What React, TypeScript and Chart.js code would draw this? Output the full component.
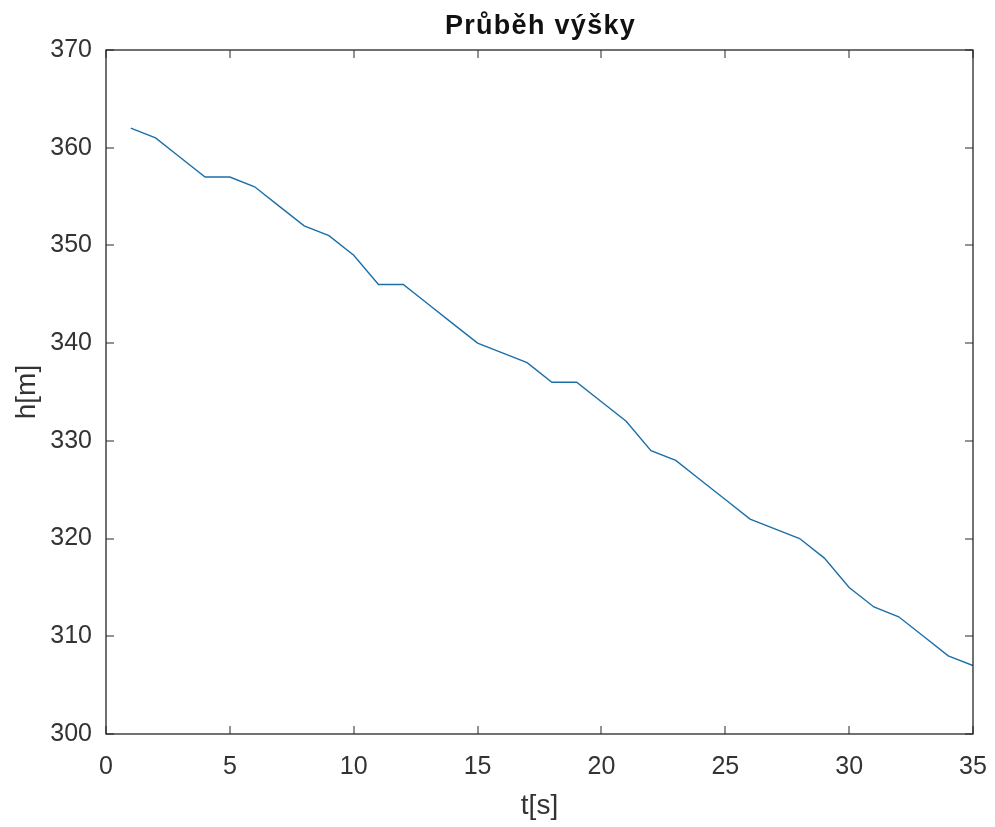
import React, { useEffect, useRef } from "react";
import { Chart, registerables } from "chart.js";

Chart.register(...registerables);

const titleText = "Průběh výšky";
const xLabel = "t[s]";
const yLabel = "h[m]";
const timeValues = [
  1, 2, 3, 4, 5, 6, 7, 8, 9, 10, 11, 12, 13, 14, 15, 16, 17, 18, 19, 20, 21, 22, 23, 24, 25, 26, 27, 28, 29, 30, 31, 32, 33, 34, 35,
];
const heightValues = [
  362, 361, 359, 357, 357, 356, 354, 352, 351, 349, 346, 346, 344, 342, 340, 339, 338, 336, 336, 334, 332, 329, 328, 326, 324, 322,
  321, 320, 318, 315, 313, 312, 310, 308, 307,
];
const xTicksRange = { min: 0, max: 35, step: 5 };
const yTicksRange = { min: 300, max: 370, step: 10 };

const FONT = "'Liberation Sans', Arial, Helvetica, sans-serif";
const AXIS_COLOR = "#262626";

const boxPlugin = {
  id: "matlabBox",
  afterDatasetsDraw(chart: any) {
    const { ctx, chartArea } = chart;
    const { left, right, top, bottom } = chartArea;
    const xs = chart.scales.x;
    const ys = chart.scales.y;
    const tl = 8;
    ctx.save();
    ctx.strokeStyle = AXIS_COLOR;
    ctx.lineWidth = 1;
    ctx.beginPath();
    xs.ticks.forEach((t: any) => {
      const px = Math.round(xs.getPixelForValue(t.value));
      ctx.moveTo(px, bottom);
      ctx.lineTo(px, bottom - tl);
      ctx.moveTo(px, top);
      ctx.lineTo(px, top + tl);
    });
    ys.ticks.forEach((t: any) => {
      const py = Math.round(ys.getPixelForValue(t.value));
      ctx.moveTo(left, py);
      ctx.lineTo(left + tl, py);
      ctx.moveTo(right, py);
      ctx.lineTo(right - tl, py);
    });
    ctx.stroke();
    ctx.lineWidth = 1.3;
    ctx.strokeRect(left, top, right - left, bottom - top);
    // title
    ctx.fillStyle = "#111111";
    ctx.font = `bold 27px ${FONT}`;
    try {
      (ctx as any).letterSpacing = "1.3px";
    } catch (e) {}
    ctx.textAlign = "center";
    ctx.textBaseline = "middle";
    ctx.fillText(titleText, (left + right) / 2 + 1, 27);
    ctx.restore();
  },
};

export default function App() {
  const canvasRef = useRef<HTMLCanvasElement | null>(null);

  useEffect(() => {
    if (!canvasRef.current) return;
    const chart = new Chart(canvasRef.current, {
      type: "line",
      data: {
        datasets: [
          {
            label: "h",
            data: timeValues.map((t, i) => ({ x: t, y: heightValues[i] })),
            borderColor: "#1a6fa8",
            borderWidth: 1.4,
            pointRadius: 0,
            tension: 0,
            fill: false,
          },
        ],
      },
      options: {
        responsive: false,
        animation: false,
        devicePixelRatio: 1,
        layout: { padding: { top: 50, right: 22, left: 0, bottom: 0 } },
        plugins: {
          legend: { display: false },
          tooltip: { enabled: false },
          title: { display: false },
        },
        scales: {
          x: {
            type: "linear",
            min: xTicksRange.min,
            max: xTicksRange.max,
            grid: { display: false, drawTicks: false },
            border: { display: false },
            ticks: {
              stepSize: xTicksRange.step,
              padding: 18,
              color: "#333333",
              font: { family: FONT, size: 25 },
              maxRotation: 0,
            },
            title: {
              display: true,
              text: xLabel,
              color: "#333333",
              font: { family: FONT, size: 28 },
              padding: { top: 0, bottom: 4 },
            },
            afterFit(scale: any) {
              scale.height = 93;
              scale.paddingLeft = 0;
              scale.paddingRight = 0;
            },
          },
          y: {
            type: "linear",
            min: yTicksRange.min,
            max: yTicksRange.max,
            grid: { display: false, drawTicks: false },
            border: { display: false },
            ticks: {
              stepSize: yTicksRange.step,
              padding: 14,
              color: "#333333",
              font: { family: FONT, size: 25 },
            },
            title: {
              display: true,
              text: yLabel,
              color: "#333333",
              font: { family: FONT, size: 28 },
              padding: { top: 10, bottom: 0 },
            },
            afterFit(scale: any) {
              scale.width = 106;
              scale.paddingTop = 0;
              scale.paddingBottom = 0;
            },
          },
        },
      },
      plugins: [boxPlugin],
    });
    return () => chart.destroy();
  }, []);

  return (
    <div style={{ position: "absolute", left: 0, top: 0, width: 995, height: 827, background: "#ffffff" }}>
      <canvas ref={canvasRef} width={995} height={827} />
    </div>
  );
}
